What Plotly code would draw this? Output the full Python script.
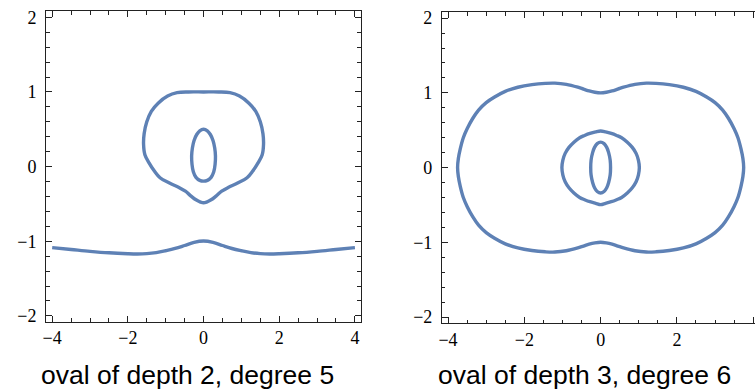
import plotly.graph_objects as go

LINE_COLOR = "#5E81B5"

# ---------- left panel: oval of depth 2, degree 5 ----------
pear_x = [0, -0.4, -0.7, -0.95, -1.2, -1.38, -1.5, -1.57, -1.585, -1.55, -1.44, -1.3, -1.15, -0.9, -0.65, -0.48, -0.33, -0.2, -0.08, 0,
          0.08, 0.2, 0.33, 0.48, 0.65, 0.9, 1.15, 1.3, 1.44, 1.55, 1.585, 1.57, 1.5, 1.38, 1.2, 0.95, 0.7, 0.4, 0]
pear_y = [1.0, 1.0, 0.99, 0.945, 0.85, 0.74, 0.6, 0.44, 0.3, 0.16, 0.05, -0.06, -0.15, -0.22, -0.28, -0.33, -0.395, -0.445, -0.475, -0.485,
          -0.475, -0.445, -0.395, -0.33, -0.28, -0.22, -0.15, -0.06, 0.05, 0.16, 0.3, 0.44, 0.6, 0.74, 0.85, 0.945, 0.99, 1.0, 1.0]

egg_x = [0, -0.1, -0.18, -0.25, -0.295, -0.315, -0.305, -0.27, -0.2, -0.1, 0,
         0.1, 0.2, 0.27, 0.305, 0.315, 0.295, 0.25, 0.18, 0.1, 0]
egg_y = [0.5, 0.48, 0.43, 0.35, 0.25, 0.14, 0.03, -0.07, -0.145, -0.185, -0.195,
         -0.185, -0.145, -0.07, 0.03, 0.14, 0.25, 0.35, 0.43, 0.48, 0.5]

low_x = [-4.0, -3.5, -3.0, -2.5, -2.0, -1.75, -1.5, -1.25, -1.0, -0.75, -0.5, -0.25, 0,
         0.25, 0.5, 0.75, 1.0, 1.25, 1.5, 1.75, 2.0, 2.5, 3.0, 3.5, 4.0]
low_y = [-1.085, -1.11, -1.135, -1.155, -1.167, -1.17, -1.166, -1.152, -1.127, -1.097, -1.057, -1.015, -0.997,
         -1.015, -1.057, -1.097, -1.127, -1.152, -1.166, -1.17, -1.167, -1.155, -1.135, -1.11, -1.085]

# ---------- right panel: oval of depth 3, degree 6 ----------
outer_x = [0, -0.15, -0.3, -0.45, -0.6, -0.9, -1.2, -1.45, -1.8, -2.17, -2.5, -2.78, -3.0, -3.2, -3.35, -3.5, -3.6, -3.68, -3.73, -3.75,
           -3.73, -3.68, -3.6, -3.5, -3.35, -3.2, -3.0, -2.78, -2.5, -2.17, -1.8, -1.45, -1.2, -0.9, -0.6, -0.45, -0.3, -0.15, 0,
           0.15, 0.3, 0.45, 0.6, 0.9, 1.2, 1.45, 1.8, 2.17, 2.5, 2.78, 3.0, 3.2, 3.35, 3.5, 3.6, 3.68, 3.73, 3.75,
           3.73, 3.68, 3.6, 3.5, 3.35, 3.2, 3.0, 2.78, 2.5, 2.17, 1.8, 1.45, 1.2, 0.9, 0.6, 0.45, 0.3, 0.15, 0]
outer_y = [1.0, 1.008, 1.025, 1.05, 1.075, 1.113, 1.13, 1.127, 1.11, 1.075, 1.02, 0.945, 0.87, 0.77, 0.66, 0.52, 0.4, 0.25, 0.12, 0,
           -0.12, -0.25, -0.4, -0.52, -0.66, -0.77, -0.87, -0.945, -1.02, -1.075, -1.11, -1.127, -1.13, -1.113, -1.075, -1.05, -1.025, -1.008, -1.0,
           -1.008, -1.025, -1.05, -1.075, -1.113, -1.13, -1.127, -1.11, -1.075, -1.02, -0.945, -0.87, -0.77, -0.66, -0.52, -0.4, -0.25, -0.12, 0,
           0.12, 0.25, 0.4, 0.52, 0.66, 0.77, 0.87, 0.945, 1.02, 1.075, 1.11, 1.127, 1.13, 1.113, 1.075, 1.05, 1.025, 1.008, 1.0]

mid_x = [0, -0.13, -0.28, -0.42, -0.55, -0.7, -0.83, -0.93, -0.99, -1.015,
         -0.99, -0.93, -0.83, -0.7, -0.55, -0.42, -0.28, -0.13, 0,
         0.13, 0.28, 0.42, 0.55, 0.7, 0.83, 0.93, 0.99, 1.015,
         0.99, 0.93, 0.83, 0.7, 0.55, 0.42, 0.28, 0.13, 0]
mid_y = [0.49, 0.478, 0.457, 0.43, 0.4, 0.34, 0.27, 0.19, 0.1, 0,
         -0.1, -0.19, -0.27, -0.34, -0.4, -0.43, -0.457, -0.478, -0.495,
         -0.478, -0.457, -0.43, -0.4, -0.34, -0.27, -0.19, -0.1, 0,
         0.1, 0.19, 0.27, 0.34, 0.4, 0.43, 0.457, 0.478, 0.49]

inner_x = [0, -0.09, -0.16, -0.21, -0.25, -0.26, -0.25, -0.21, -0.16, -0.09, 0,
           0.09, 0.16, 0.21, 0.25, 0.26, 0.25, 0.21, 0.16, 0.09, 0]
inner_y = [0.34, 0.32, 0.27, 0.2, 0.1, 0, -0.1, -0.2, -0.27, -0.32, -0.34,
           -0.32, -0.27, -0.2, -0.1, 0, 0.1, 0.2, 0.27, 0.32, 0.34]

titles = ["oval of depth 2, degree 5", "oval of depth 3, degree 6"]

W, H = 755, 391
fig = go.Figure()


def add(x, y, xa, ya):
    fig.add_trace(go.Scatter(x=x, y=y, mode="lines", xaxis=xa, yaxis=ya,
                             line=dict(color=LINE_COLOR, width=3.4, shape="spline", smoothing=1.0),
                             hoverinfo="skip", showlegend=False))


add(pear_x, pear_y, "x", "y")
add(egg_x, egg_y, "x", "y")
add(low_x, low_y, "x", "y")
add(outer_x, outer_y, "x2", "y2")
add(mid_x, mid_y, "x2", "y2")
add(inner_x, inner_y, "x2", "y2")

common = dict(showgrid=False, zeroline=False, showline=True, linecolor="#222", linewidth=1,
              ticks="inside", ticklen=6, tickwidth=1, tickcolor="#222",
              tickfont=dict(family="Liberation Serif", size=18, color="black"),
              fixedrange=True)

xcommon = dict(common, tickmode="linear", tick0=0, dtick=2,
               minor=dict(ticks="inside", ticklen=3.5, tickwidth=1, tickcolor="#222", dtick=0.5, tick0=0, showgrid=False))
ycommon = dict(common, tickmode="linear", tick0=0, dtick=1,
               minor=dict(ticks="inside", ticklen=3.5, tickwidth=1, tickcolor="#222", dtick=0.2, tick0=0, showgrid=False))

fig.update_layout(
    width=W, height=H,
    margin=dict(l=0, r=0, t=0, b=0),
    paper_bgcolor="white", plot_bgcolor="white",
    xaxis=dict(xcommon, domain=[43.3 / W, 359.4 / W], range=[-4.16, 4.16], anchor="y", mirror="allticks"),
    yaxis=dict(ycommon, domain=[1 - 324.5 / H, 1 - 7.5 / H], range=[-2.08, 2.08], anchor="x", mirror="allticks",
               ticklabelstandoff=5),
    xaxis2=dict(xcommon, domain=[440.7 / W, 1.0], range=[-4.16, (755 - 600) / 38.3], anchor="y2", mirror="allticks"),
    yaxis2=dict(ycommon, domain=[1 - 325.7 / H, 1 - 8.3 / H], range=[-2.08, 2.08], anchor="x2", mirror=False,
                ticklabelstandoff=5),
    annotations=[
        dict(text=titles[0], x=185.5 / W, y=1 - 379 / H, xref="paper", yref="paper",
             xanchor="center", yanchor="middle", showarrow=False,
             font=dict(family="Liberation Sans", size=26.5, color="black")),
        dict(text=titles[1], x=584 / W, y=1 - 379 / H, xref="paper", yref="paper",
             xanchor="center", yanchor="middle", showarrow=False,
             font=dict(family="Liberation Sans", size=26.5, color="black")),
    ],
)

fig.write_html("out.html", config={"displayModeBar": False, "staticPlot": True},
               post_script="document.body.style.margin='0';document.body.style.overflow='hidden';")
